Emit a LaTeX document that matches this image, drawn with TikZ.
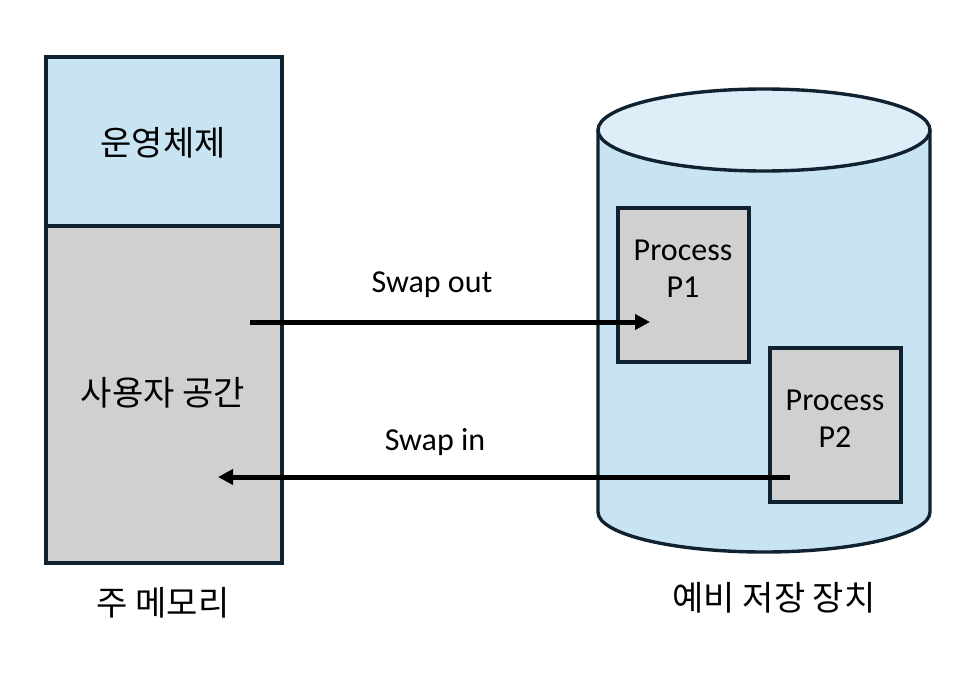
\documentclass[tikz,border=0pt]{standalone}
\usepackage{fontspec}
\setmainfont{Carlito}
\newfontfamily\kr{Noto Sans CJK KR}
\usetikzlibrary{arrows.meta}
\definecolor{edge}{HTML}{10222F}
\definecolor{lblue}{HTML}{C8E3F1}
\definecolor{tblue}{HTML}{DDEEF8}
\definecolor{lgray}{HTML}{D0D0D0}
\tikzset{
  boxy/.style={draw=edge,line width=3.4pt,inner sep=0pt,outer sep=0pt},
  lab/.style={font=\fontsize{32}{37}\selectfont},
  klab/.style={font=\kr\fontsize{34}{38}\selectfont},
  arr/.style={line width=5pt,-{Triangle[length=15pt,width=15pt]}}
}
\begin{document}
\begin{tikzpicture}[x=1pt,y=-1pt]
\useasboundingbox (0,0) rectangle (970,680);
% main memory
\node[boxy,fill=lblue,minimum width=236pt,minimum height=169pt,anchor=north west] (os) at (46,57) {};
\node[boxy,fill=lgray,minimum width=236pt,minimum height=337pt,anchor=north west] (user) at (46,226) {};
\node[klab] (ostext) at (163,143) {운영체제};
\node[klab] (usertext) at (163,393) {사용자 공간};
\node[klab] (memlabel) at (163,603) {주 메모리};
% cylinder
\filldraw[fill=lblue,draw=edge,line width=3.4pt] (598,130) -- (598,512) arc[start angle=180,end angle=360,x radius=166,y radius=-40] -- (930,130);
\filldraw[fill=tblue,draw=edge,line width=3.4pt] (764,130) ellipse[x radius=166,y radius=41];
\node[klab] (disklabel) at (774,598) {예비 저장 장치};
% processes
\node[boxy,fill=lgray,minimum width=131pt,minimum height=154pt,anchor=north west] (p1) at (618,208) {};
\node[lab,align=center] (p1t) at (683,269) {Process\\P1};
\node[boxy,fill=lgray,minimum width=131pt,minimum height=154pt,anchor=north west] (p2) at (770,348) {};
\node[lab,align=center] (p2t) at (835,419) {Process\\P2};
% arrows
\coordinate (outs) at (250,322);
\coordinate (oute) at (650,322);
\coordinate (ins) at (790,477);
\coordinate (ine) at (218,477);
\draw[arr] (outs) -- (oute);
\draw[arr] (ins) -- (ine);
\node[lab] (swapout) at (432,285) {Swap out};
\node[lab] (swapin) at (435,442) {Swap in};
\end{tikzpicture}
\end{document}
